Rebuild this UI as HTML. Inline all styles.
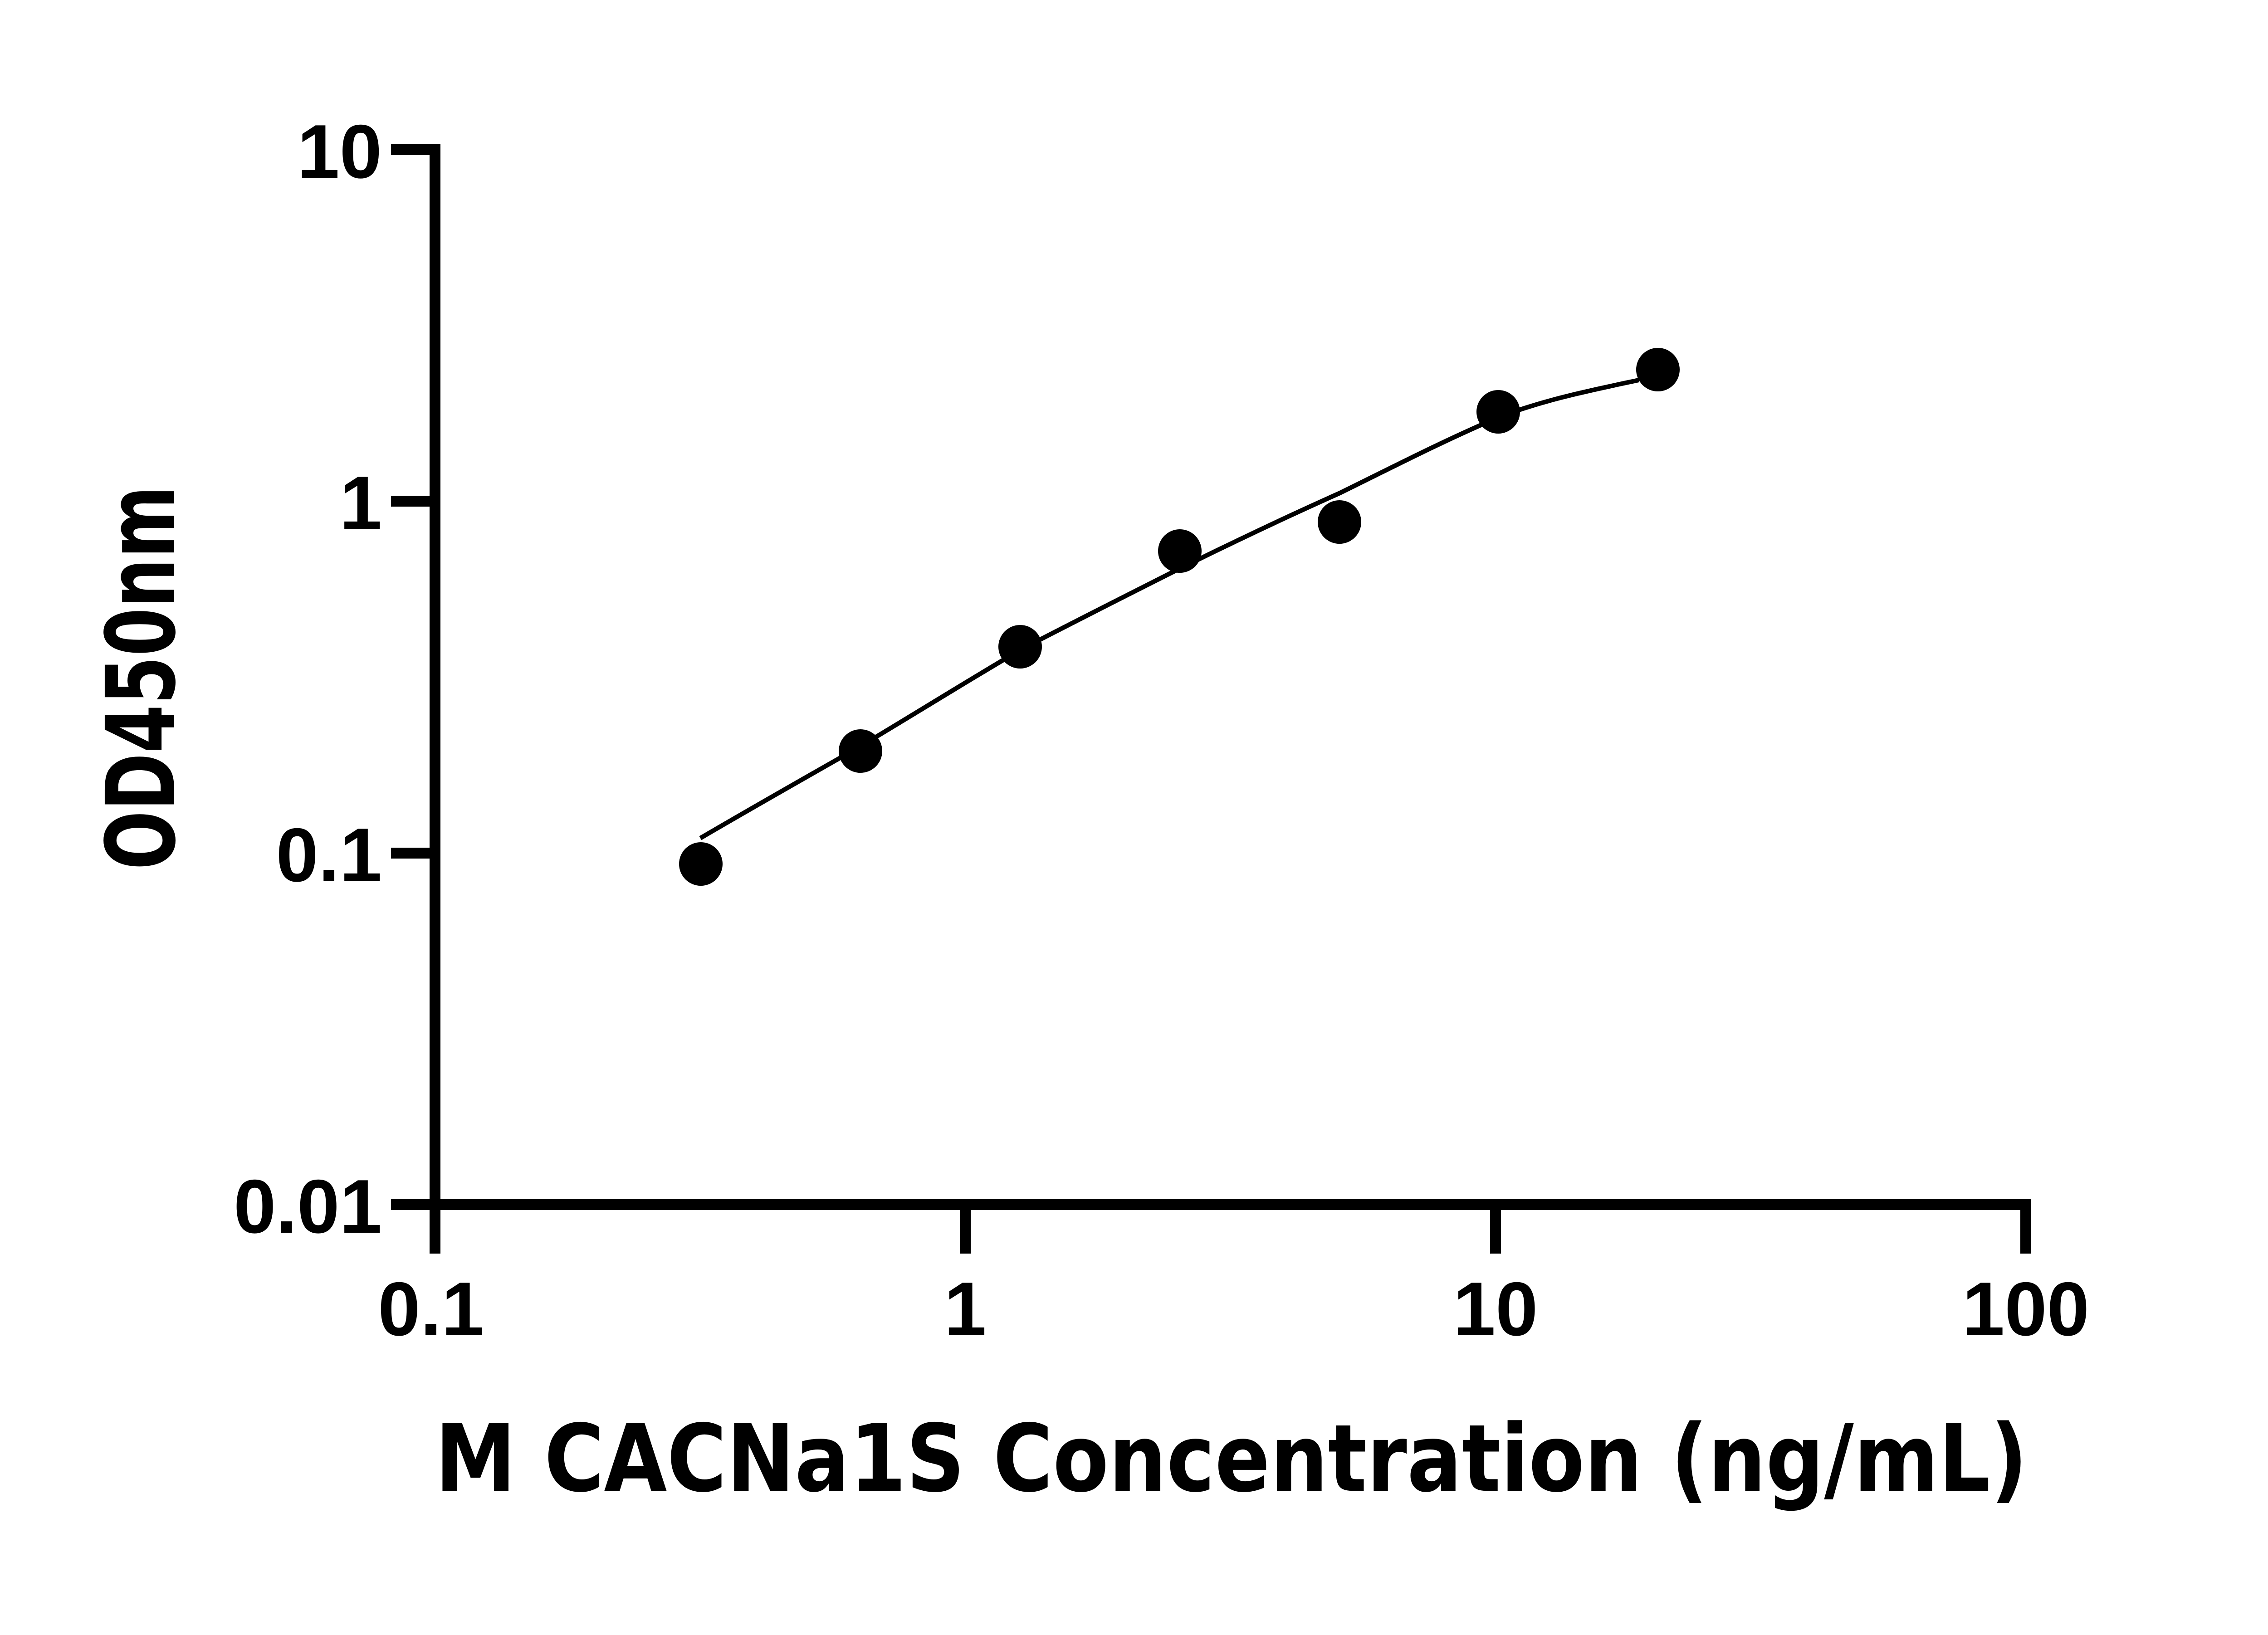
<!DOCTYPE html>
<html><head><meta charset="utf-8"><style>html,body{margin:0;padding:0;background:#fff}</style></head>
<body>
<svg width="5142" height="3600" viewBox="0 0 5142 3600" xmlns="http://www.w3.org/2000/svg">
<rect width="5142" height="3600" fill="#fff"/>
<g stroke="#000" stroke-width="24" fill="none" stroke-linecap="butt">
<path d="M862 330 H959 V2656 H4466 V2764"/>
<path d="M862 1105 H959 M862 1881 H959 M862 2656 H959"/>
<path d="M959 2656 V2764 M2128 2656 V2764 M3297 2656 V2764"/>
</g>
<path d="M1544 1848 C1660 1780 1780 1712 1896 1646 C2015 1575 2135 1500 2251 1432 C2370 1370 2485 1312 2602 1253 C2720 1195 2835 1140 2954 1087 C3070 1030 3190 968 3309 918 C3410 880 3510 860 3613 838" stroke="#000" stroke-width="10" fill="none"/>
<g fill="#000">
<circle cx="1545" cy="1905" r="48"/>
<circle cx="1897" cy="1656" r="48"/>
<circle cx="2249" cy="1426" r="48"/>
<circle cx="2601" cy="1215" r="48"/>
<circle cx="2953" cy="1151" r="48"/>
<circle cx="3303" cy="908" r="48"/>
<circle cx="3655" cy="815" r="48"/>
</g>
<g font-family="Liberation Sans, Arial, sans-serif" font-weight="bold" font-size="168" fill="#000">
<text x="842" y="392" text-anchor="end">10</text>
<text x="842" y="1167" text-anchor="end">1</text>
<text x="842" y="1943" text-anchor="end">0.1</text>
<text x="842" y="2718" text-anchor="end">0.01</text>
<text x="950" y="2944" text-anchor="middle">0.1</text>
<text x="2128" y="2944" text-anchor="middle">1</text>
<text x="3297" y="2944" text-anchor="middle">10</text>
<text x="4466" y="2944" text-anchor="middle">100</text>
</g>
<text x="959" y="3287" font-family="DejaVu Sans, Liberation Sans, sans-serif" font-weight="bold" font-size="205" textLength="3511" lengthAdjust="spacingAndGlyphs">M CACNa1S Concentration (ng/mL)</text>
<text transform="translate(384,1918) rotate(-90)" font-family="DejaVu Sans, Liberation Sans, sans-serif" font-weight="bold" font-size="210" textLength="847" lengthAdjust="spacingAndGlyphs">OD450nm</text>
</svg>
</body></html>
